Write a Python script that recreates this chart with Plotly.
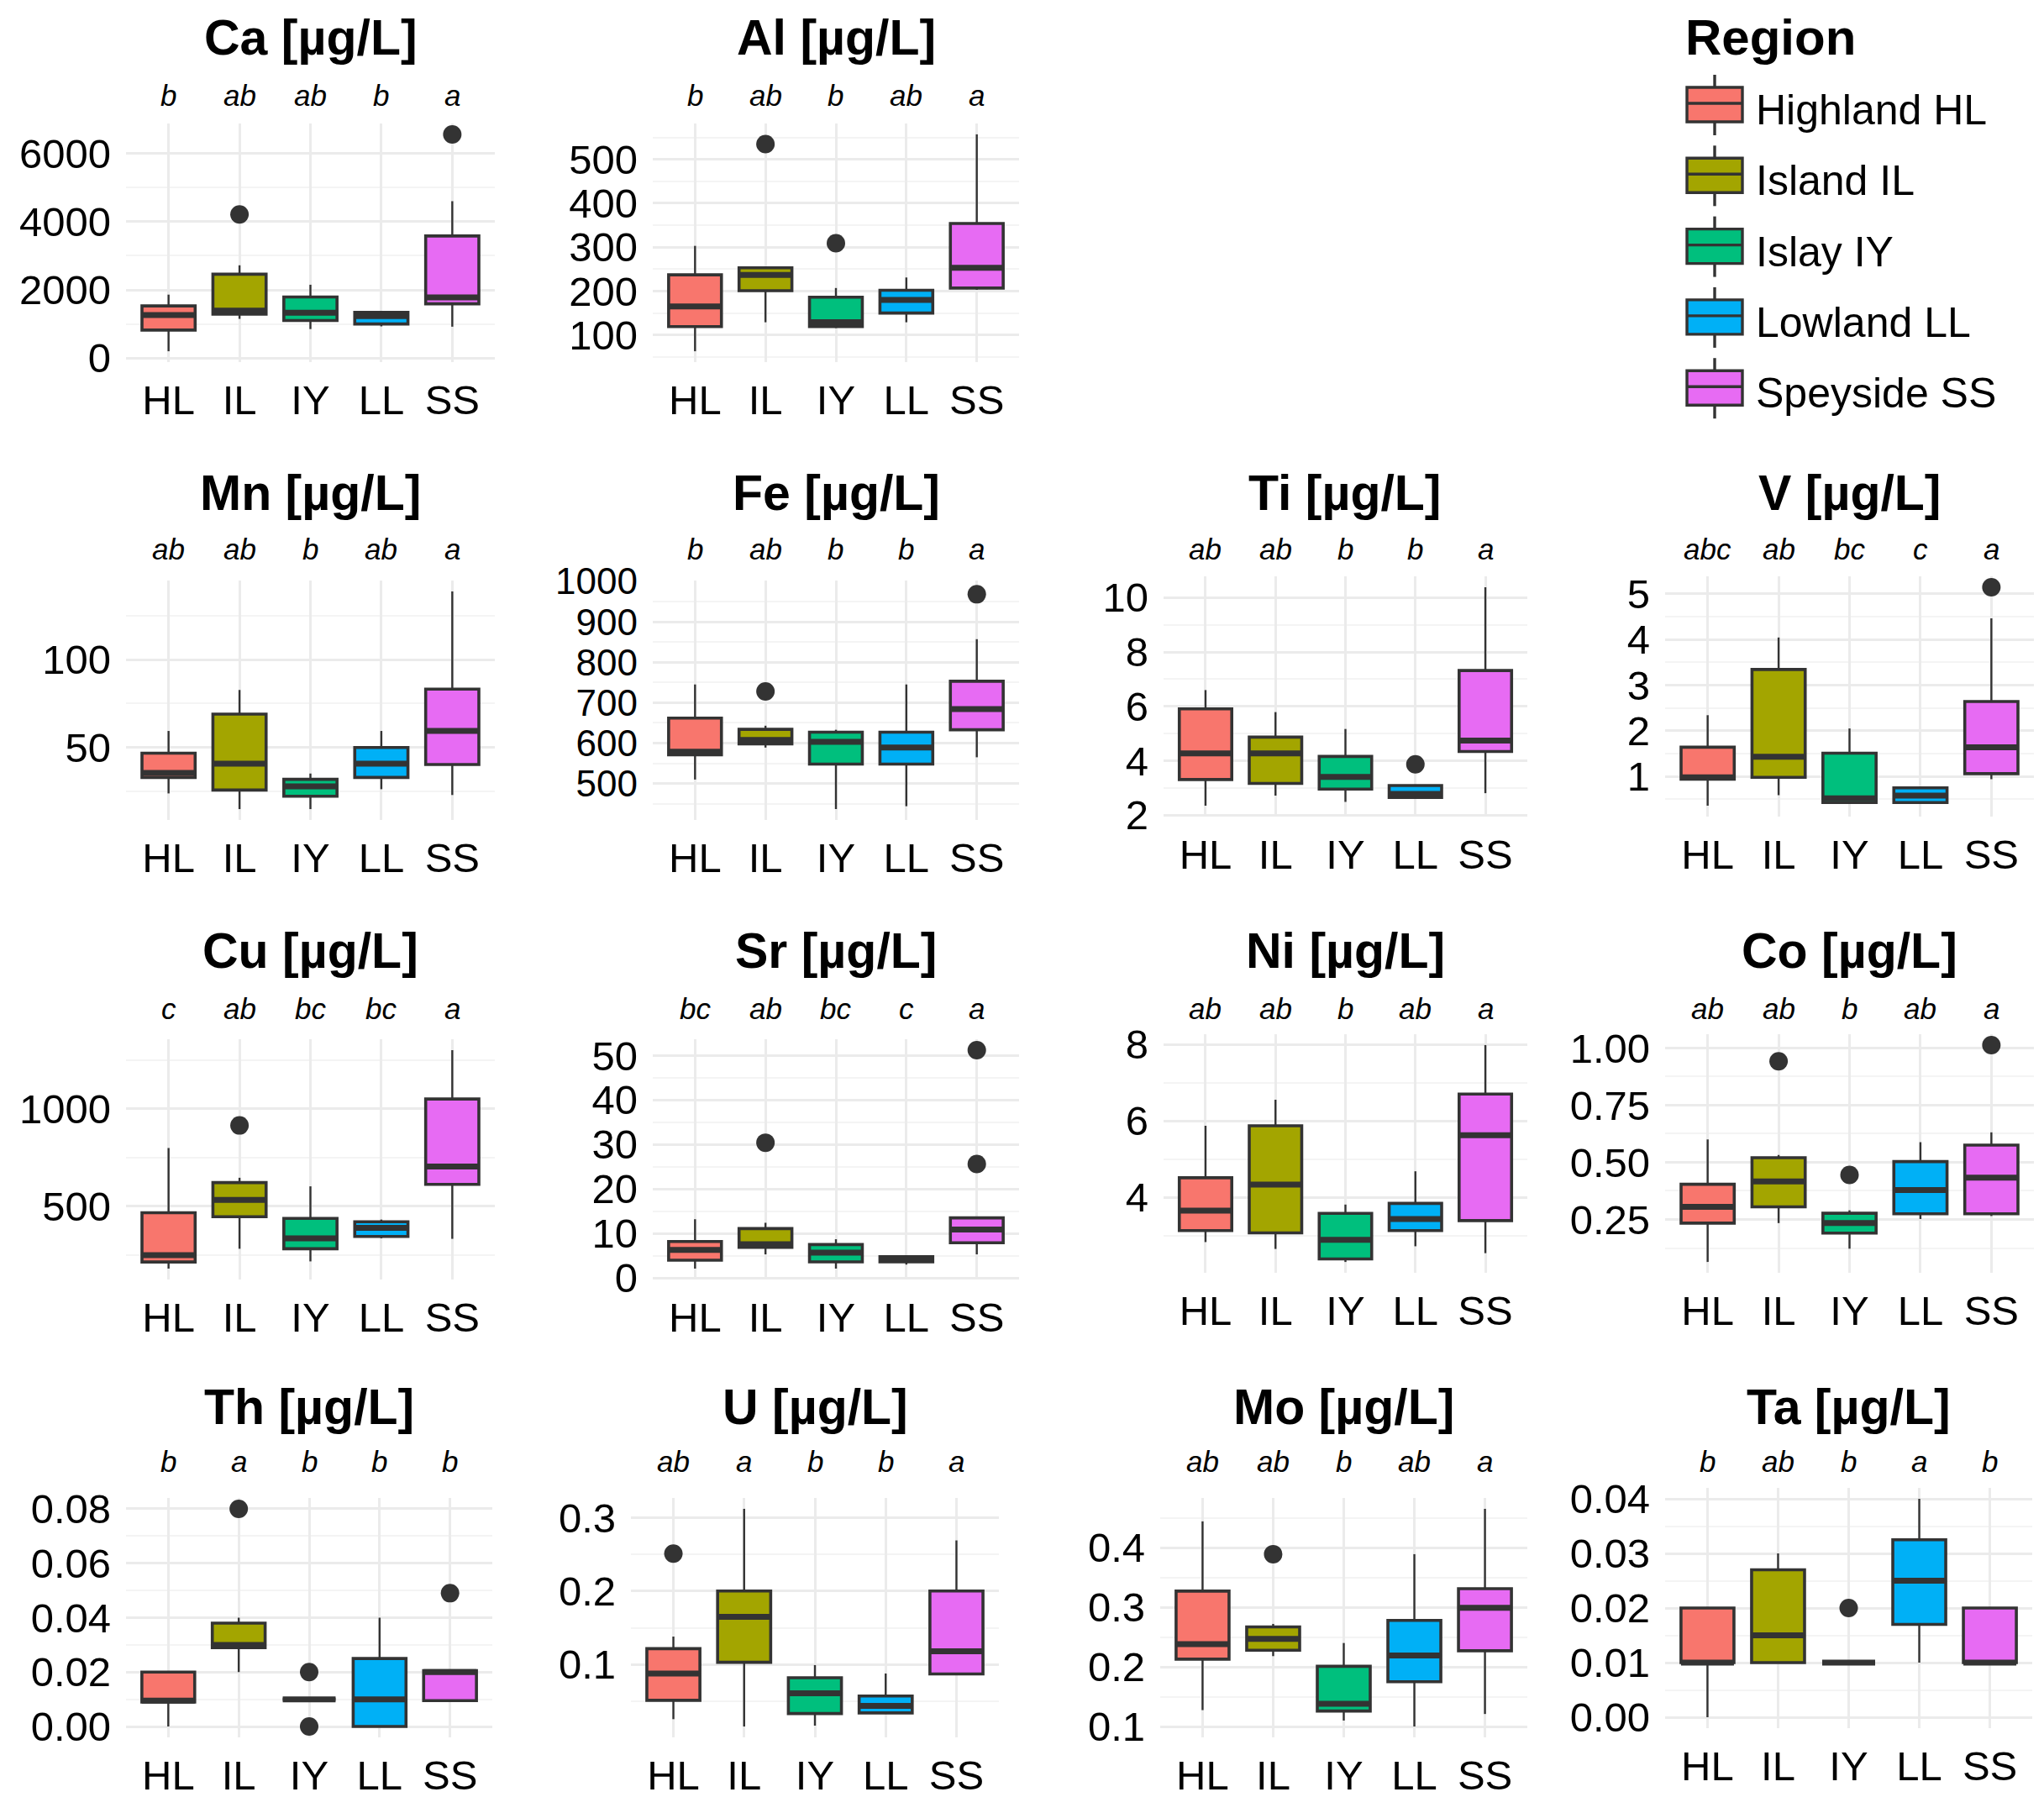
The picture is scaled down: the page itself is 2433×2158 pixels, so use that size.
import plotly.graph_objects as go

W, H = 2433, 2158

regions = ["HL", "IL", "IY", "LL", "SS"]
region_names = ["Highland HL", "Island IL", "Islay IY", "Lowland LL", "Speyside SS"]
colors = ["#F8766D", "#A3A500", "#00BF7D", "#00B0F6", "#E76BF3"]
dark = "#333333"

# box stats per element: whisker low, q1, median, q3, whisker high, outliers, letters
ca = {"lo": [200, 1150, 850, 930, 920], "q1": [820, 1290, 1100, 1000, 1590],
      "med": [1260, 1390, 1330, 1230, 1780], "q3": [1530, 2460, 1790, 1340, 3580],
      "hi": [1860, 2720, 2150, 1350, 4600], "out": [("IL", 4210), ("SS", 6560)],
      "letters": ["b", "ab", "ab", "b", "a"]}
al = {"lo": [63, 129, 116, 129, 203], "q1": [119, 201, 119, 150, 207],
      "med": [165, 237, 129, 180, 253], "q3": [237, 253, 186, 202, 354],
      "hi": [303, 253, 207, 231, 557], "out": [("IL", 535), ("IY", 309)],
      "letters": ["b", "ab", "b", "ab", "a"]}
mn = {"lo": [23.9, 15, 15, 26.3, 23], "q1": [33, 25.8, 22.3, 33, 40.3],
      "med": [35.5, 40.8, 27.9, 40.8, 59.4], "q3": [46.8, 69, 31.9, 50, 83.2],
      "hi": [59.4, 82.7, 35.2, 59.4, 138.7], "out": [],
      "letters": ["ab", "ab", "b", "ab", "a"]}
fe = {"lo": [510, 589, 437, 444, 565], "q1": [571, 598, 548, 548, 633],
      "med": [579, 608, 603, 589, 684], "q3": [662, 634, 627, 627, 753],
      "hi": [745, 643, 633, 745, 857], "out": [("IL", 728), ("SS", 968)],
      "letters": ["b", "ab", "b", "b", "a"]}
ti = {"lo": [2.35, 2.72, 2.49, 2.64, 2.81], "q1": [3.31, 3.17, 2.96, 2.65, 4.34],
      "med": [4.27, 4.27, 3.41, 2.78, 4.74], "q3": [5.91, 4.87, 4.16, 3.09, 7.32],
      "hi": [6.60, 5.79, 5.17, 3.10, 10.38], "out": [("LL", 3.87)],
      "letters": ["ab", "ab", "b", "b", "a"]}
v = {"lo": [0.36, 0.59, 0.43, 0.43, 0.94], "q1": [0.94, 0.98, 0.43, 0.43, 1.06],
     "med": [0.98, 1.43, 0.52, 0.58, 1.64], "q3": [1.64, 3.34, 1.51, 0.75, 2.64],
     "hi": [2.34, 4.04, 2.05, 0.75, 4.46], "out": [("SS", 5.14)],
     "letters": ["abc", "ab", "bc", "c", "a"]}
cu = {"lo": [179, 281, 216, 335, 332], "q1": [213, 446, 281, 344, 612],
      "med": [248, 532, 335, 388, 704], "q3": [466, 621, 437, 420, 1051],
      "hi": [799, 646, 602, 431, 1302], "out": [("IL", 915)],
      "letters": ["c", "ab", "bc", "bc", "a"]}
sr = {"lo": [2.1, 5.3, 2.1, 3.0, 5.3], "q1": [4.0, 6.9, 3.6, 3.6, 7.9],
      "med": [6.3, 7.6, 5.7, 4.1, 10.9], "q3": [8.2, 11.1, 7.5, 4.8, 13.5],
      "hi": [13.2, 12.4, 8.7, 5.1, 13.5], "out": [("IL", 30.4), ("SS", 25.6), ("SS", 51.2)],
      "letters": ["bc", "ab", "bc", "c", "a"]}
ni = {"lo": [2.83, 2.65, 2.31, 2.72, 2.54], "q1": [3.13, 3.07, 2.39, 3.13, 3.39],
      "med": [3.65, 4.33, 2.89, 3.43, 5.62], "q3": [4.51, 5.87, 3.58, 3.84, 6.70],
      "hi": [5.87, 6.55, 3.81, 4.68, 7.98], "out": [],
      "letters": ["ab", "ab", "b", "ab", "a"]}
co = {"lo": [0.064, 0.234, 0.122, 0.252, 0.265], "q1": [0.234, 0.305, 0.190, 0.275, 0.275],
      "med": [0.305, 0.416, 0.234, 0.379, 0.433], "q3": [0.404, 0.520, 0.277, 0.503, 0.575],
      "hi": [0.600, 0.532, 0.290, 0.588, 0.631],
      "out": [("IL", 0.942), ("IY", 0.445), ("SS", 1.013)],
      "letters": ["ab", "ab", "b", "ab", "a"]}
th = {"lo": [0.0, 0.02, 0.01, 0.0, 0.0095], "q1": [0.009, 0.029, 0.01, 0.0, 0.0095],
      "med": [0.0095, 0.030, 0.01, 0.01, 0.02], "q3": [0.02, 0.038, 0.01, 0.025, 0.0205],
      "hi": [0.02, 0.04, 0.01, 0.04, 0.0205],
      "out": [("IL", 0.08), ("IY", 0.02), ("IY", 0.0), ("SS", 0.049)],
      "letters": ["b", "a", "b", "b", "b"]}
u = {"lo": [0.0255, 0.0155, 0.0167, 0.0332, 0.087], "q1": [0.0512, 0.103, 0.0332, 0.034, 0.087],
     "med": [0.0877, 0.165, 0.0608, 0.0436, 0.118], "q3": [0.1215, 0.2, 0.082, 0.057, 0.2],
     "hi": [0.138, 0.312, 0.0992, 0.0877, 0.269], "out": [("HL", 0.251)],
     "letters": ["ab", "a", "b", "b", "a"]}
mo = {"lo": [0.1275, 0.218, 0.110, 0.100, 0.121], "q1": [0.213, 0.228, 0.126, 0.175, 0.227],
      "med": [0.238, 0.247, 0.138, 0.219, 0.299], "q3": [0.327, 0.267, 0.201, 0.278, 0.331],
      "hi": [0.444, 0.272, 0.240, 0.389, 0.465], "out": [("IL", 0.389)],
      "letters": ["ab", "ab", "b", "ab", "a"]}
ta = {"lo": [0.0, 0.01, 0.01, 0.01, 0.01], "q1": [0.01, 0.01, 0.01, 0.017, 0.01],
      "med": [0.01, 0.015, 0.01, 0.025, 0.01], "q3": [0.02, 0.027, 0.01, 0.0325, 0.02],
      "hi": [0.02, 0.03, 0.01, 0.04, 0.02], "out": [("IY", 0.02)],
      "letters": ["b", "ab", "b", "a", "b"]}

elements = [("Ca", ca), ("Al", al), ("Mn", mn), ("Fe", fe), ("Ti", ti), ("V", v),
            ("Cu", cu), ("Sr", sr), ("Ni", ni), ("Co", co),
            ("Th", th), ("U", u), ("Mo", mo), ("Ta", ta)]
major_step = [2000, 100, 50, 100, 2, 1, 500, 10, 2, 0.25, 0.02, 0.1, 0.1, 0.01]
tick_fmt = ["d", "d", "d", "d", "d", "d", "d", "d", "d", ".2f", ".2f", ".1f", ".1f", ".2f"]

# panel rectangles in pixels: left, right, top, bottom, and the row they sit in
panel_px = [(142, 581, 139, 423, 0), (769, 1205, 139, 423, 0),
            (142, 581, 683, 968, 1), (769, 1205, 683, 968, 1), (1377, 1810, 678, 964, 1), (1974, 2413, 678, 964, 1),
            (142, 581, 1229, 1515, 2), (769, 1205, 1229, 1515, 2), (1377, 1810, 1223, 1507, 2), (1974, 2413, 1223, 1507, 2),
            (142, 578, 1775, 2060, 3), (743, 1181, 1775, 2060, 3), (1373, 1810, 1775, 2060, 3), (1974, 2411, 1763, 2049, 3)]
title_y = [37, 579, 1124, 1667]
letter_y = [105, 646, 1192, 1731]
range_fix = {"Fe": [410, 1002]}
ytick_size = {"Fe": 44}

font = "Liberation Sans"
fig = go.Figure()
annotations = []
layout_axes = {}

for k, ((name, d), (left, right, top, bottom, row), step, fmt) in enumerate(
        zip(elements, panel_px, major_step, tick_fmt), start=1):
    xa, ya = f"x{k}", f"y{k}"
    for i, code in enumerate(regions):
        # whiskers
        fig.add_trace(go.Scatter(x=[code, code, None, code, code],
                                 y=[d["lo"][i], d["q1"][i], None, d["q3"][i], d["hi"][i]],
                                 mode="lines", line=dict(color=dark, width=2.4),
                                 xaxis=xa, yaxis=ya, showlegend=False, hoverinfo="skip"))
        fig.add_trace(go.Box(x=[code], q1=[d["q1"][i]], median=[d["med"][i]], q3=[d["q3"][i]],
                             lowerfence=[d["q1"][i]], upperfence=[d["q3"][i]],
                             fillcolor=colors[i], line=dict(color=dark, width=3.6),
                             whiskerwidth=0, width=0.75, boxpoints=False,
                             xaxis=xa, yaxis=ya, showlegend=False, hoverinfo="skip"))
        m = d["med"][i]
        fig.add_trace(go.Box(x=[code], q1=[m], median=[m], q3=[m], lowerfence=[m], upperfence=[m],
                             fillcolor="rgba(0,0,0,0)", line=dict(color=dark, width=7),
                             whiskerwidth=0, width=0.75, boxpoints=False,
                             xaxis=xa, yaxis=ya, showlegend=False, hoverinfo="skip"))
    if d["out"]:
        fig.add_trace(go.Scatter(x=[c for c, _ in d["out"]], y=[val for _, val in d["out"]],
                                 mode="markers", marker=dict(color=dark, size=22),
                                 xaxis=xa, yaxis=ya, showlegend=False, hoverinfo="skip"))

    vals = d["lo"] + d["hi"] + [val for _, val in d["out"]]
    lo, hi = min(vals), max(vals)
    pad = 0.05 * (hi - lo)
    rng = range_fix.get(name, [lo - pad, hi + pad])

    suffix = "" if k == 1 else str(k)
    layout_axes["xaxis" + suffix] = dict(
        domain=[left / W, right / W], anchor=ya, type="category", automargin=False,
        categoryorder="array", categoryarray=regions, range=[-0.6, 4.6],
        showgrid=True, gridcolor="#EBEBEB", gridwidth=2.5, zeroline=False, showline=False,
        ticks="", ticklabelstandoff=12, tickfont=dict(family=font, size=49, color="black"))
    layout_axes["yaxis" + suffix] = dict(
        domain=[1 - bottom / H, 1 - top / H], anchor=xa, range=rng, automargin=False,
        tick0=0, dtick=step, tickformat=fmt,
        showgrid=True, gridcolor="#EBEBEB", gridwidth=3, zeroline=False, showline=False,
        minor=dict(dtick=step / 2, tick0=0, showgrid=True, gridcolor="#F4F4F4", gridwidth=2),
        ticks="", ticklabelstandoff=17,
        tickfont=dict(family=font, size=ytick_size.get(name, 49), color="black"))

    annotations.append(dict(text=f"<b>{name} [µg/L]</b>", x=(left + right) / 2 / W, y=1 - title_y[row] / H,
                            xref="paper", yref="paper", xanchor="center", yanchor="middle",
                            showarrow=False, font=dict(family=font, size=59, color="black")))
    for code, letter in zip(regions, d["letters"]):
        annotations.append(dict(text=f"<i>{letter}</i>", x=code, xref=xa, y=1 - letter_y[row] / H,
                                yref="paper", xanchor="center", yanchor="middle", showarrow=False,
                                font=dict(family=font, size=35, color="black")))

# legend drawn by hand so the keys can be as large as in the original
shapes = []
annotations.append(dict(text="<b>Region</b>", x=1996 / W, y=1 - 37 / H, xref="paper", yref="paper",
                        xanchor="left", yanchor="middle", showarrow=False,
                        font=dict(family=font, size=60, color="black")))
for i, (label, col) in enumerate(zip(region_names, colors)):
    yc = 116 + 84.3 * i
    kx0, kx1 = 2000 / W, 2066 / W
    kxm = (kx0 + kx1) / 2
    shapes.append(dict(type="line", xref="paper", yref="paper", x0=kxm, x1=kxm,
                       y0=1 - (yc - 35) / H, y1=1 - (yc + 37) / H, line=dict(color=dark, width=3.4)))
    shapes.append(dict(type="rect", xref="paper", yref="paper", x0=kx0, x1=kx1,
                       y0=1 - (yc - 20) / H, y1=1 - (yc + 21) / H,
                       fillcolor=col, line=dict(color=dark, width=3.4)))
    shapes.append(dict(type="line", xref="paper", yref="paper", x0=kx0, x1=kx1,
                       y0=1 - (yc - 1) / H, y1=1 - (yc - 1) / H, line=dict(color=dark, width=3.4)))
    annotations.append(dict(text=label, x=2080 / W, y=1 - (yc + 7) / H, xref="paper", yref="paper",
                            xanchor="left", yanchor="middle", showarrow=False,
                            font=dict(family=font, size=50, color="black")))

fig.update_layout(layout_axes)
fig.update_layout(template="none", width=W, height=H, margin=dict(l=0, r=0, t=0, b=0, pad=0),
                  paper_bgcolor="white", plot_bgcolor="white", boxmode="overlay",
                  showlegend=False, annotations=annotations, shapes=shapes)

fig.write_html("out.html")
